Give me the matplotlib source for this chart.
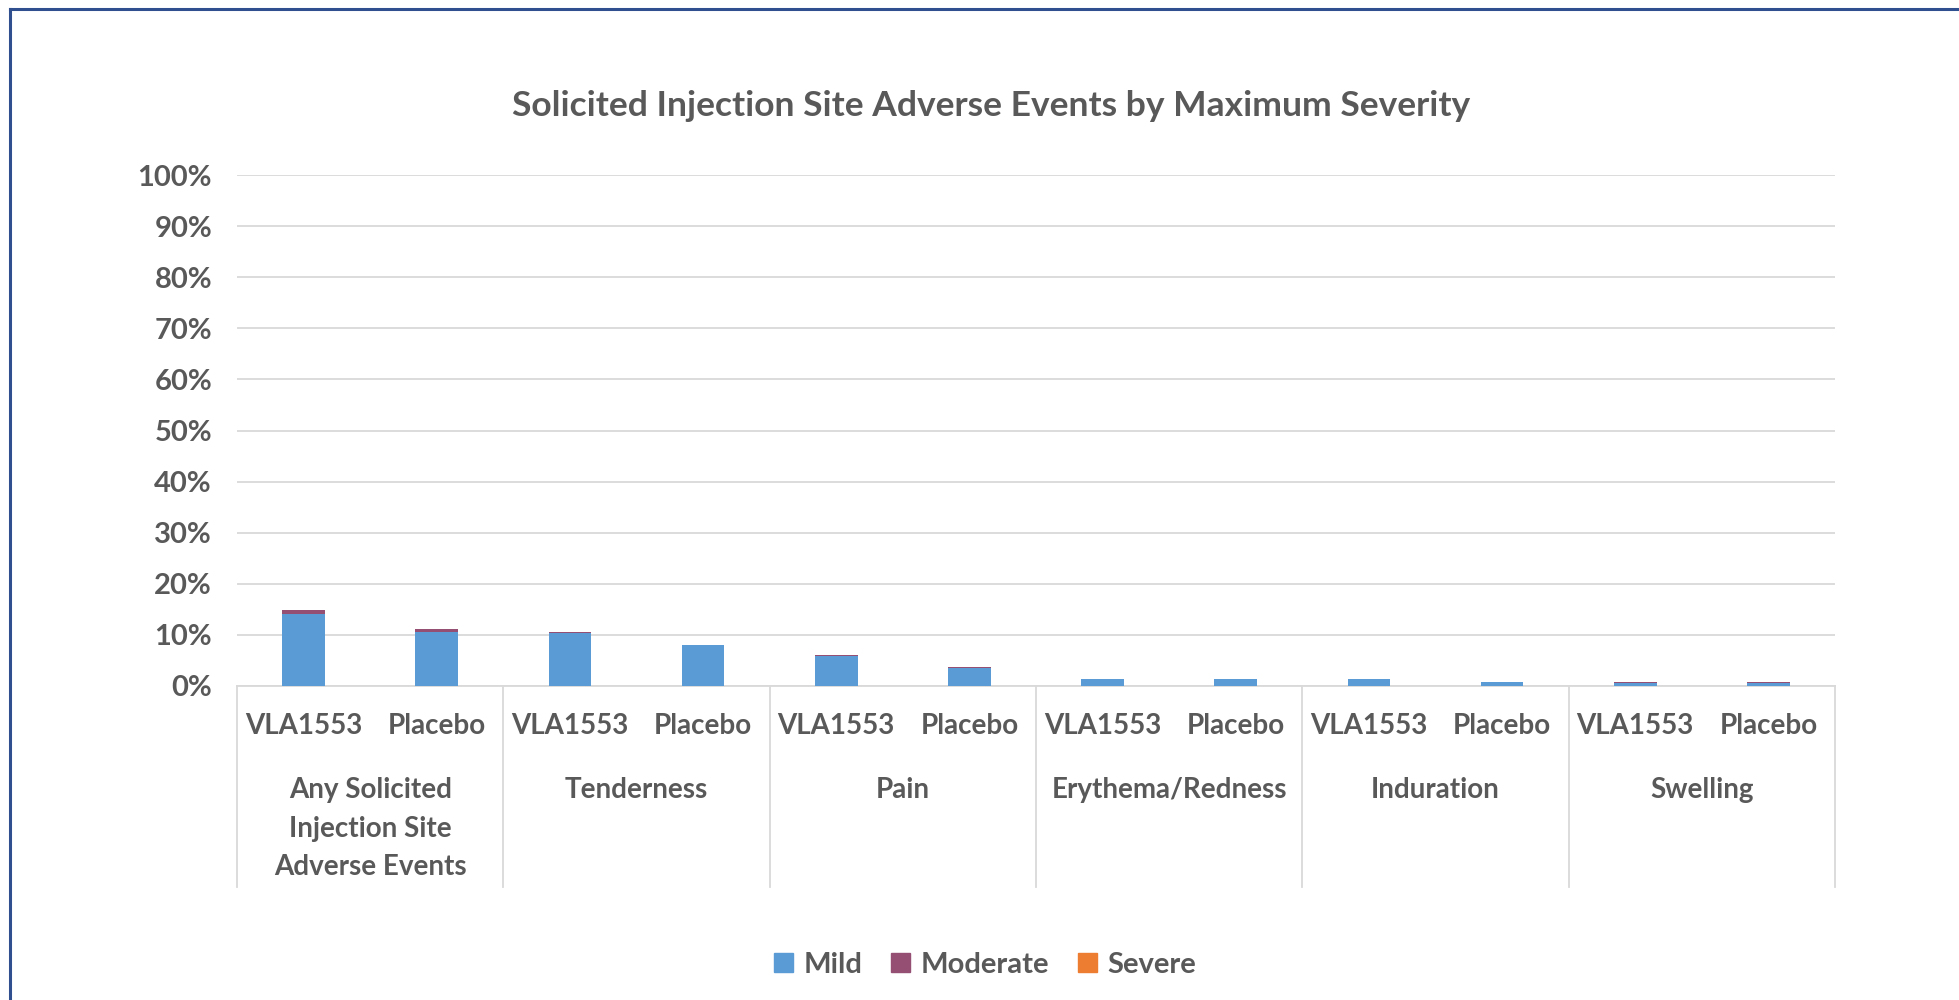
import matplotlib
matplotlib.use('Agg')
import matplotlib.pyplot as plt
from matplotlib.patches import Patch
from matplotlib.transforms import blended_transform_factory

# data (percent of subjects)
groups = ['Any Solicited\nInjection Site\nAdverse Events', 'Tenderness', 'Pain',
          'Erythema/Redness', 'Induration', 'Swelling']
arms = ['VLA1553', 'Placebo']
mild = [14.1, 10.6, 10.3, 8.1, 5.8, 3.5, 1.4, 1.4, 1.3, 0.8, 0.5, 0.5]
moderate = [0.8, 0.6, 0.3, 0.0, 0.3, 0.2, 0.0, 0.0, 0.1, 0.0, 0.2, 0.3]
severe = [0.0, 0.0, 0.0, 0.0, 0.0, 0.0, 0.0, 0.0, 0.0, 0.0, 0.0, 0.0]
yticks = list(range(0, 101, 10))

C_MILD = '#5B9BD5'
C_MOD = '#954F72'
C_SEV = '#ED7D31'
TXT = '#595959'
GRID = '#D9D9D9'

plt.rcParams['font.family'] = ['Lato', 'DejaVu Sans']
plt.rcParams['font.weight'] = 'bold'

W, H = 1959, 1000
fig = plt.figure(figsize=(W / 100, H / 100), dpi=100)

# outer frame (only top and left edges are visible in the reference)
fig.add_artist(plt.Line2D([10 / W, 10 / W], [0, 1 - 9 / H], color='#2F4F8F', lw=2.2))
fig.add_artist(plt.Line2D([10 / W, 1], [1 - 9 / H, 1 - 9 / H], color='#2F4F8F', lw=2.2))

left, right, top, bottom = 237, 1835, 175, 686
ax = fig.add_axes([left / W, 1 - bottom / H, (right - left) / W, (bottom - top) / H])

n = len(mild)
x = list(range(n))
bw = 0.32
ax.bar(x, mild, bw, color=C_MILD, zorder=3)
bot2 = [m for m in mild]
ax.bar(x, moderate, bw, bottom=bot2, color=C_MOD, zorder=3)
bot3 = [m + d for m, d in zip(mild, moderate)]
ax.bar(x, severe, bw, bottom=bot3, color=C_SEV, zorder=3)

ax.set_xlim(-0.5, n - 0.5)
ax.set_ylim(0, 100)
ax.set_yticks(yticks)
ax.set_yticklabels([f'{t}%' for t in yticks], fontsize=21, color=TXT, fontweight='bold')
ax.tick_params(axis='y', length=0, pad=18)
ax.set_xticks([])
ax.yaxis.grid(True, color=GRID, lw=1.3, zorder=0)
for s in ['top', 'right', 'left']:
    ax.spines[s].set_visible(False)
ax.spines['bottom'].set_color(GRID)
ax.spines['bottom'].set_linewidth(1.3)

tr = blended_transform_factory(ax.transData, fig.transFigure)
for i in range(n):
    ax.text(i, 1 - 726 / H, arms[i % 2], transform=tr, ha='center', va='center',
            fontsize=20, color=TXT, fontweight='bold')
for g, name in enumerate(groups):
    ax.text(2 * g + 0.5, 1 - 777 / H, name, transform=tr, ha='center', va='top',
            fontsize=20, color=TXT, fontweight='bold', linespacing=1.6)
for k in range(len(groups) + 1):
    xs = 2 * k - 0.5
    ax.plot([xs, xs], [1 - bottom / H, 1 - 887 / H], transform=tr, color=GRID,
            lw=1.3, clip_on=False)

fig.text(991 / W, 1 - 106 / H, 'Solicited Injection Site Adverse Events by Maximum Severity',
         ha='center', va='center', fontsize=25.5, color=TXT, fontweight='bold')

handles = [Patch(color=C_MILD, label='Mild'), Patch(color=C_MOD, label='Moderate'),
           Patch(color=C_SEV, label='Severe')]
leg = fig.legend(handles=handles, loc='center', bbox_to_anchor=(985 / W, 1 - 965 / H),
                 ncol=3, frameon=False, fontsize=21, handlelength=0.65, handleheight=0.65,
                 handletextpad=0.35, columnspacing=1.0)
for t in leg.get_texts():
    t.set_color(TXT)
    t.set_fontweight('bold')

fig.savefig('out.png', dpi=100, facecolor='white')
